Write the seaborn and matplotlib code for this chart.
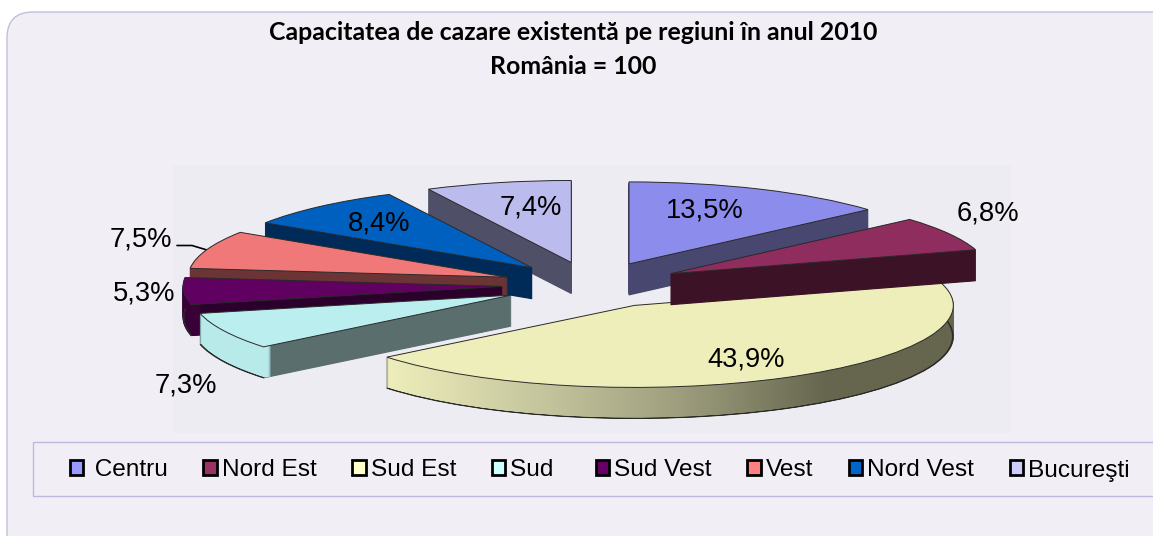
import numpy as np
import seaborn as sns
import matplotlib.pyplot as plt
from matplotlib.colors import LinearSegmentedColormap
from matplotlib.patches import FancyBboxPatch, Patch, Rectangle
from matplotlib.path import Path

# data
regions = ['Centru', 'Nord Est', 'Sud Est', 'Sud', 'Sud Vest', 'Vest', 'Nord Vest', 'Bucureşti']
values = [13.5, 6.8, 43.9, 7.3, 5.3, 7.5, 8.4, 7.4]
title_lines = ['Capacitatea de cazare existentă pe regiuni în anul 2010', 'România = 100']

# colours
top_colors = sns.color_palette(['#8c8cec', '#8e2d5e', '#eeeebb', '#bbeeee', '#600060', '#f07878', '#0060c0', '#bbbbee'])
side_colors = sns.color_palette(['#47476f', '#3c1226', '#66664f', '#5a6e6e', '#2c002c', '#6b3535', '#002a58', '#4f4f68'])
rim_colors = sns.color_palette(['#47476f', '#3c1226', '#eeeebb', '#b8eaea', '#3a0038', '#6b3535', '#002a58', '#4f4f68'])
legend_colors = sns.color_palette(['#9999ff', '#993366', '#ffffcc', '#ccffff', '#660066', '#ff8080', '#0066cc', '#ccccff'])

# figure geometry, in pixels
W, H = 1153, 536
CX, CY = 592, 285      # pie centre
RX, RY = 319, 82       # ellipse radii
DEPTH = 31             # thickness of the pie
EXPLODE = 90 / RX
draw_rank = [1, 7, 6, 5, 4, 3, 2, 0]   # back to front
front_slices = [2, 3, 4]               # slices whose curved wall can be seen
label_pos = [(705, 210), (988, 214), (746, 359), (186, 386), (144, 293), (141, 240), (379, 224), (531, 208)]

sns.set_theme(style='white')
plt.rcParams['font.family'] = ['Liberation Sans', 'DejaVu Sans']

fig = plt.figure(figsize=(W / 100, H / 100), dpi=100, facecolor='white')

# background panels, drawn in pixel coordinates
back = fig.add_axes([0, 0, 1, 1])
back.set_xlim(0, W)
back.set_ylim(H, 0)
back.axis('off')
back.add_patch(FancyBboxPatch((7, 12), 1190, 570, boxstyle='round,pad=0,rounding_size=26',
                              facecolor='#f1eff5', edgecolor='#c6bcd8', linewidth=1))
back.add_patch(Rectangle((173, 165), 838, 268, facecolor='#eeecf3', edgecolor='none'))
back.add_patch(Rectangle((33, 442), 1200, 54, facecolor='#f1eff5', edgecolor='#c4b5dc', linewidth=1))
back.plot([177, 192, 207], [245.5, 245.5, 250], color='black', linewidth=1.2)

# pie axes: the unit circle maps to an ellipse
ax = fig.add_axes([0, 0, 1, 1])


def pie_layer(colors, step=0, **wedgeprops):
    wedges, _ = ax.pie(values, colors=colors, explode=[EXPLODE] * len(values), startangle=90,
                       counterclock=False, center=(0, -step / RY), wedgeprops=wedgeprops)
    return wedges


ylow, yhigh = -(H - CY) / RY, CY / RY

# extrusion: solid copies for the radial walls, thin rings for the curved wall
big_outlines = []
for step in range(DEPTH, 0, -1):
    solid = pie_layer(side_colors, step, linewidth=0.8)
    for i, w in enumerate(solid):
        w.set_edgecolor(side_colors[i])
        w.set_zorder(draw_rank[i] * 1000 + 100 + DEPTH - step)
    big_outlines.append(solid[2].get_path().transformed(solid[2].get_patch_transform()))
    rings = pie_layer(rim_colors, step, width=0.03, edgecolor='none', linewidth=0)
    for i, w in enumerate(rings):
        w.set_zorder(draw_rank[i] * 1000 + 200 + DEPTH - step)

# curved wall of the big slice fades from light to dark
wall_cmap = LinearSegmentedColormap.from_list(
    'wall', [(0, '#eeeebb'), (0.25, '#c8c8a0'), (0.5, '#a0a080'), (0.77, '#66664f'), (1, '#66664f')])
im = ax.imshow(np.linspace(0, 1, 256).reshape(1, -1), cmap=wall_cmap, aspect='auto',
               extent=((387 - CX) / RX, (960 - CX) / RX, ylow, yhigh),
               zorder=draw_rank[2] * 1000 + 400)
im.set_clip_path(Path.make_compound_path(*big_outlines), transform=ax.transData)

# dark line along the lower rim of the front slices
for i, w in enumerate(pie_layer(['#2a2a2a'] * len(values), DEPTH, width=0.003, edgecolor='#2a2a2a', linewidth=0.5)):
    w.set_visible(i in front_slices)
    w.set_zorder(draw_rank[i] * 1000 + 500)

# top faces
for i, w in enumerate(pie_layer(top_colors, 0, edgecolor='#2a2a2a', linewidth=0.7)):
    w.set_zorder(draw_rank[i] * 1000 + 900)

ax.set_aspect('auto')
ax.set_xlim(-CX / RX, (W - CX) / RX)
ax.set_ylim(ylow, yhigh)
ax.axis('off')

# title
for line, y in zip(title_lines, [33, 66]):
    fig.text(573 / W, 1 - y / H, line, ha='center', va='center', fontsize=17.9,
             fontweight='bold', family=['Lato', 'DejaVu Sans'], color='black')

# value labels
for v, (x, y) in zip(values, label_pos):
    fig.text(x / W, 1 - y / H, f'{v:.1f}%'.replace('.', ','), ha='center', va='center',
             fontsize=19.7, color='black')

# legend
handles = [Patch(facecolor=c, edgecolor='black', linewidth=2) for c in legend_colors]
legend_labels = [' ' + r if r == 'Centru' else r + ' ' if r == 'Sud' else r for r in regions]
fig.legend(handles, legend_labels, ncol=len(regions), loc='center', bbox_to_anchor=(599.5 / W, 1 - 470.5 / H),
           frameon=False, fontsize=17.6, labelcolor='black', handlelength=0.55, handleheight=0.55,
           handletextpad=0.2, columnspacing=1.46, borderpad=0, borderaxespad=0)

fig.savefig('out.png', dpi=100, facecolor='white')
